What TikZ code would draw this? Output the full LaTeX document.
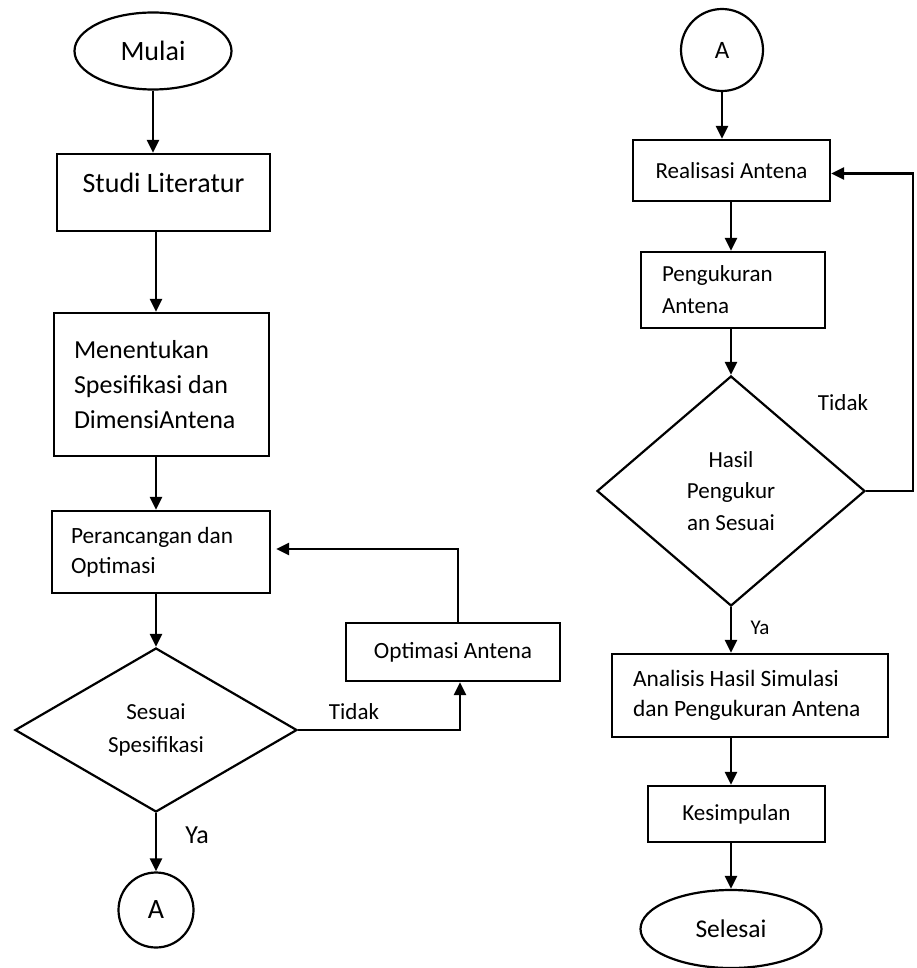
\documentclass[tikz,border=0pt]{standalone}
\usepackage{fontspec}
\setmainfont{Carlito}
\usetikzlibrary{shapes.geometric,arrows.meta}

\tikzset{
  kotak/.style={draw, rectangle, line width=2.2pt, inner sep=0pt, align=center},
  kotakkiri/.style={kotak, align=flush left, inner xsep=20pt},
  keputusan/.style={draw, diamond, line width=2.2pt, inner sep=0pt, align=center},
  terminal/.style={draw, ellipse, line width=2.2pt, inner sep=0pt},
  konektor/.style={draw, circle, line width=2.2pt, inner sep=0pt},
  panah/.style={line width=2.6pt, -{Triangle[length=13pt,width=12pt]}},
  label/.style={inner sep=0pt}
}

\begin{document}
\begin{tikzpicture}[x=1pt, y=-1pt]
\useasboundingbox (0,0) rectangle (916,968);

\def\kiri{156}
\def\kanan{731}
\coordinate (kol) at (\kiri, 0);
\coordinate (kolb) at (\kanan, 0);
\coordinate (balik) at (913, 0);

% kolom kiri
\node[terminal, font=\fontsize{28}{34}\selectfont, minimum width=157pt, minimum height=77pt] (mulai) at (153,51) {Mulai};
\node[kotak, font=\fontsize{28}{34}\selectfont, text height=20pt, text depth=20pt, minimum width=213pt, minimum height=77pt] (studi) at (163.5,192.5) {Studi Literatur};
\node[kotakkiri, font=\fontsize{26}{35}\selectfont, text width=175pt, minimum height=143pt] (spek) at (161.5,384.5) {Menentukan\\Spesifikasi dan\\DimensiAntena};
\node[kotakkiri, font=\fontsize{23.3}{30}\selectfont, text width=180pt, inner xsep=19pt, minimum height=82pt] (rancang) at (161,552) {Perancangan dan\\Optimasi};
\node[keputusan, font=\fontsize{23}{33}\selectfont, minimum width=282pt, minimum height=164pt] (sesuai) at (\kiri,730) {Sesuai\\Spesifikasi};
\node[kotak, font=\fontsize{23.3}{28}\selectfont, minimum width=214pt, minimum height=58pt] (optim) at (453,652) {Optimasi Antena};
\node[konektor, font=\fontsize{28}{34}\selectfont, minimum size=75pt] (ka) at (\kiri,910) {A};

% kolom kanan
\node[konektor, font=\fontsize{25}{30}\selectfont, minimum size=82pt] (kb) at (722,50) {A};
\node[kotak, font=\fontsize{23}{28}\selectfont, minimum width=197pt, minimum height=61pt] (realisasi) at (731.5,170.5) {Realisasi Antena};
\node[kotakkiri, font=\fontsize{23}{32}\selectfont, text width=142pt, inner xsep=21pt, minimum height=76pt] (ukur) at (733,290) {Pengukuran\\Antena};
\node[keputusan, font=\fontsize{23}{31.5}\selectfont, minimum width=268pt, minimum height=230pt] (hasil) at (\kanan,491) {Hasil\\Pengukur\\an Sesuai};
\node[kotakkiri, font=\fontsize{23.4}{30}\selectfont, text width=234pt, inner xsep=21pt, minimum height=83pt] (analisis) at (750,695.5) {Analisis Hasil Simulasi\\dan Pengukuran Antena};
\node[kotak, font=\fontsize{23}{28}\selectfont, minimum width=177pt, minimum height=56pt] (simpul) at (736.5,814) {Kesimpulan};
\node[terminal, font=\fontsize{25.5}{30}\selectfont, minimum width=181pt, minimum height=78pt] (selesai) at (\kanan,929) {Selesai};

% label
\node[label, font=\fontsize{26}{30}\selectfont] (ya1) at (197,835) {Ya};
\node[label, font=\fontsize{23}{28}\selectfont] (tidak1) at (354,712) {Tidak};
\node[label, font=\fontsize{21}{26}\selectfont] (ya2) at (760,628) {Ya};
\node[label, font=\fontsize{23}{28}\selectfont] (tidak2) at (843,403) {Tidak};

% panah kiri
\draw[panah] (mulai.south) -- (mulai.south |- studi.north);
\draw[panah] (studi.south -| kol) -- (spek.north -| kol);
\draw[panah] (spek.south -| kol) -- (rancang.north -| kol);
\draw[panah] (rancang.south -| kol) -- (sesuai.north);
\draw[panah] (sesuai.south) -- (ka.north);
\draw[panah] (sesuai.east) -- ([xshift=7pt]optim.south |- sesuai.east) -- ([xshift=7pt]optim.south);
\draw[panah, shorten >=5pt] ([xshift=5pt]optim.north) |- ([yshift=3pt]rancang.east);

% panah kanan
\draw[panah] (kb.south) -- (kb.south |- realisasi.north);
\draw[panah] (realisasi.south -| kolb) -- (ukur.north -| kolb);
\draw[panah] (ukur.south -| kolb) -- (hasil.north);
\draw[panah] (hasil.south) -- (analisis.north -| kolb);
\draw[panah] (analisis.south -| kolb) -- (simpul.north -| kolb);
\draw[panah] (simpul.south -| kolb) -- (selesai.north);
\draw[panah] (hasil.east) -- (hasil.east -| balik) |- ([yshift=-3pt]realisasi.east);

\end{tikzpicture}
\end{document}
